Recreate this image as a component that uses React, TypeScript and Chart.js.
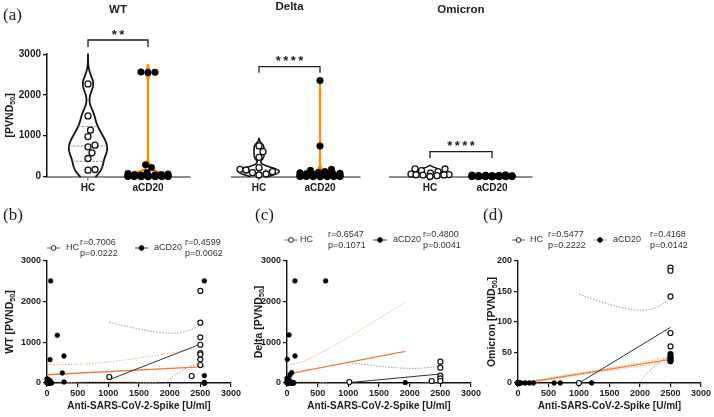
import React, { useEffect, useRef } from "react";
import { Chart, registerables } from "chart.js";

Chart.register(...registerables);

const SANS = "'Liberation Sans', Arial, Helvetica, sans-serif";
const SERIF = "'Liberation Serif', 'Times New Roman', serif";
const INK = "#1d1d1d";
const ORANGE_VIOLIN = "#ff8a00";
const ORANGE_LINE = "#f07a3a";
const ORANGE_CI = "#f3a36a";

// ---------------- data: violin panels (a) ----------------
const GROUPS = ["HC", "aCD20"];
const VIOLIN_Y_TICKS = [0, 1000, 2000, 3000];

const WT_HC = [2271, 1487, 1136, 980, 768, 727, 580, 441, 172, 155];
const WT_ACD20 = [2565, 2555, 2548, 290, 220, 95, 75, 60, 50, 45, 40, 35, 30, 25, 22, 20, 18, 15, 12, 10, 10, 8, 5, 5, 3, 2, 0, 0, 0, 0, 0, 0, 0, 0];
const DELTA_HC = [749, 610, 471, 217, 176, 160, 119, 94, 61, 37];
const DELTA_ACD20 = [2355, 749, 176, 150, 120, 100, 90, 80, 70, 60, 50, 45, 40, 35, 30, 25, 20, 18, 15, 12, 10, 8, 5, 5, 3, 2, 0, 0, 0, 0, 0, 0, 0, 0];
const OMICRON_HC = [189, 184, 142, 120, 82, 60, 47, 43, 39, 36, 20, 0];
const OMICRON_ACD20 = [40, 35, 30, 28, 25, 22, 20, 18, 15, 12, 10, 10, 8, 8, 5, 5, 5, 3, 3, 2, 2, 1, 1, 0, 0, 0, 0, 0, 0, 0, 0, 0, 0, 0];

const SIG_WT = "**";
const SIG_DELTA = "****";
const SIG_OMICRON = "****";

// ---------------- data: correlation panels (b)-(d) ----------------
const SPIKE_TICK_STEP = 500;

const WT_SPIKE_HC = [1016, 2359, 2500, 2500, 2500, 2500, 2500, 2500, 2500, 2500];
const WT_PVND_HC = [148, 172, 2263, 1484, 1123, 940, 738, 705, 582, 443];
const WT_SPIKE_ACD20 = [60, 168, 49, 277, 250, 277, 2565, 2565, 2565, 2565, 2565, 2565, 2565, 0, 0, 0, 5, 8, 10, 12, 15, 18, 20, 22, 25, 28, 30, 35, 40, 45, 50, 55, 65, 75];
const WT_PVND_ACD20 = [2509, 1173, 574, 664, 246, 25, 2509, 180, 8, 0, 0, 0, 0, 0, 30, 100, 10, 60, 0, 20, 90, 0, 40, 5, 15, 0, 70, 10, 0, 25, 0, 50, 5, 0];

const DELTA_SPIKE_HC = [1016, 2359, 2500, 2500, 2500, 2500, 2500];
const DELTA_PVND_HC = [25, 49, 525, 377, 180, 115, 49];
const DELTA_SPIKE_ACD20 = [130, 630, 33, 130, 5, 76, 49, 1929, 0, 0, 0, 3, 5, 8, 10, 12, 15, 18, 20, 22, 25, 28, 30, 35, 40, 45, 50, 60, 70, 80, 90, 100, 105, 110];
const DELTA_PVND_ACD20 = [2509, 2509, 1181, 664, 582, 254, 197, 8, 0, 20, 115, 60, 0, 30, 10, 80, 0, 45, 5, 0, 20, 100, 0, 10, 60, 0, 25, 0, 15, 0, 5, 0, 10, 0];

const OMICRON_SPIKE_HC = [1000, 2500, 2500, 2500, 2500, 2500, 2500, 2500, 2500, 2500];
const OMICRON_PVND_HC = [0, 189, 184, 142, 82, 60, 47, 43, 39, 36];
const OMICRON_SPIKE_ACD20 = [0, 0, 0, 0, 0, 0, 0, 0, 0, 0, 0, 0, 5, 5, 10, 10, 15, 20, 25, 30, 50, 117, 184, 251, 592, 693, 1207, 2500, 2500, 2500, 2500, 2500, 2500, 2500];
const OMICRON_PVND_ACD20 = [0, 0, 0, 0, 0, 0, 0, 0, 0, 0, 0, 0, 0, 0, 0, 0, 0, 0, 0, 0, 0, 0, 0, 0, 0, 0, 0, 48, 45, 42, 40, 38, 36, 35];

const WT_STATS_HC = ["r=0.7006", "p=0.0222"];
const WT_STATS_ACD20 = ["r=0.4599", "p=0.0062"];
const DELTA_STATS_HC = ["r=0.6547", "p=0.1071"];
const DELTA_STATS_ACD20 = ["r=0.4800", "p=0.0041"];
const OMICRON_STATS_HC = ["r=0.5477", "p=0.2222"];
const OMICRON_STATS_ACD20 = ["r=0.4168", "p=0.0142"];

const X_TITLE = "Anti-SARS-CoV-2-Spike [U/ml]";

// Student t 0.975 quantiles by degrees of freedom
const T975 = [0, 12.706, 4.303, 3.182, 2.776, 2.571, 2.447, 2.365, 2.306, 2.262, 2.228, 2.201, 2.179, 2.16, 2.145, 2.131, 2.12, 2.11, 2.101, 2.093, 2.086, 2.08, 2.074, 2.069, 2.064, 2.06, 2.056, 2.052, 2.048, 2.045, 2.042, 2.04, 2.037, 2.035, 2.032];

// ---------------- helpers ----------------
function kde(vals: number[], y: number, bw: number) {
  let s = 0;
  for (const v of vals) {
    const z = (y - v) / bw;
    s += Math.exp(-0.5 * z * z);
  }
  return s;
}

function quantile(sorted: number[], p: number) {
  const n = sorted.length;
  const h = (n + 1) * p - 1;
  if (h <= 0) return sorted[0];
  if (h >= n - 1) return sorted[n - 1];
  const lo = Math.floor(h);
  return sorted[lo] + (h - lo) * (sorted[lo + 1] - sorted[lo]);
}

// beeswarm layout: offsets (in x units) so that markers do not overlap
function swarm(values: number[], pyPerUnit: number, pxPerUnit: number, diam: number, maxPx: number) {
  const idx = values.map((_, i) => i).sort((a, b) => values[a] - values[b]);
  const placed: { x: number; y: number }[] = [];
  const off = new Array(values.length).fill(0);
  const steps = Math.ceil(maxPx / 0.5) * 2;
  for (const i of idx) {
    const py = values[i] * pyPerUnit;
    let best = 0;
    let bestPen = Infinity;
    for (let k = 0; k <= steps; k++) {
      const c = Math.ceil(k / 2) * 0.5 * (k % 2 === 1 ? 1 : -1);
      if (Math.abs(c) > maxPx) continue;
      let pen = 0;
      for (const p of placed) {
        const d = Math.hypot(p.x - c, p.y - py);
        if (d < diam) pen += diam - d;
      }
      if (pen < bestPen - 1e-9) {
        bestPen = pen;
        best = c;
        if (pen === 0) break;
      }
    }
    off[i] = best;
    placed.push({ x: best, y: py });
  }
  return off.map((o) => o / pxPerUnit);
}

function fit(xs: number[], ys: number[]) {
  const n = xs.length;
  const mx = xs.reduce((a, b) => a + b, 0) / n;
  const my = ys.reduce((a, b) => a + b, 0) / n;
  let sxx = 0, sxy = 0;
  for (let i = 0; i < n; i++) {
    sxx += (xs[i] - mx) ** 2;
    sxy += (xs[i] - mx) * (ys[i] - my);
  }
  const b = sxy / sxx;
  const a = my - b * mx;
  let sse = 0;
  for (let i = 0; i < n; i++) sse += (ys[i] - a - b * xs[i]) ** 2;
  const s = Math.sqrt(sse / (n - 2));
  const t = T975[Math.min(n - 2, T975.length - 1)];
  const x0 = Math.min(...xs), x1 = Math.max(...xs);
  const line = [{ x: x0, y: a + b * x0 }, { x: x1, y: a + b * x1 }];
  const up: any[] = [], lo: any[] = [];
  for (let i = 0; i <= 60; i++) {
    const x = x0 + ((x1 - x0) * i) / 60;
    const yh = a + b * x;
    const h = t * s * Math.sqrt(1 / n + (x - mx) ** 2 / sxx);
    up.push({ x, y: yh + h });
    lo.push({ x, y: yh - h });
  }
  return { line, up, lo };
}

function drawRich(ctx: any, runs: any[], x: number, y: number, size: number, rotate: boolean) {
  ctx.save();
  ctx.translate(x, y);
  if (rotate) ctx.rotate(-Math.PI / 2);
  const fonts = runs.map((r) => `bold ${r.sub ? size * 0.68 : size}px ${SANS}`);
  let total = 0;
  const widths = runs.map((r, i) => {
    ctx.font = fonts[i];
    const w = ctx.measureText(r.t).width;
    total += w;
    return w;
  });
  let cx = -total / 2;
  ctx.textAlign = "left";
  ctx.textBaseline = "middle";
  ctx.fillStyle = INK;
  runs.forEach((r, i) => {
    ctx.font = fonts[i];
    ctx.fillText(r.t, cx, r.sub ? size * 0.28 : 0);
    cx += widths[i];
  });
  ctx.restore();
}

// ---------------- plugins ----------------
const violinPlugin = {
  id: "violins",
  beforeDatasetsDraw(chart: any, _a: any, opts: any) {
    const { ctx, scales } = chart;
    const xs = scales.x, ys = scales.y;
    for (const v of opts.items || []) {
      const mn = Math.min(...v.values), mx = Math.max(...v.values);
      const lo = Math.max(0, mn - v.ext * v.bw);
      const hi = Math.min(3000, mx + v.ext * v.bw);
      const N = 300;
      const yv: number[] = [], dv: number[] = [];
      let dmax = 0;
      for (let i = 0; i <= N; i++) {
        const yy = lo + ((hi - lo) * i) / N;
        const d = kde(v.values, yy, v.bw);
        yv.push(yy);
        dv.push(d);
        if (d > dmax) dmax = d;
      }
      ctx.save();
      ctx.beginPath();
      for (let i = 0; i <= N; i++) {
        const X = xs.getPixelForValue(v.pos - (v.half * dv[i]) / dmax);
        const Y = ys.getPixelForValue(yv[i]);
        if (i === 0) ctx.moveTo(X, Y);
        else ctx.lineTo(X, Y);
      }
      for (let i = N; i >= 0; i--) {
        ctx.lineTo(xs.getPixelForValue(v.pos + (v.half * dv[i]) / dmax), ys.getPixelForValue(yv[i]));
      }
      ctx.lineJoin = "round";
      ctx.lineCap = "round";
      ctx.strokeStyle = v.stroke;
      ctx.lineWidth = v.width;
      ctx.stroke();
      if (v.quart) {
        const s = [...v.values].sort((a, b) => a - b);
        ctx.setLineDash([2, 2]);
        ctx.strokeStyle = "#7a7a7a";
        ctx.lineWidth = 0.8;
        for (const p of [0.25, 0.5, 0.75]) {
          const q = quantile(s, p);
          const w = (v.half * kde(v.values, q, v.bw)) / dmax;
          const Y = ys.getPixelForValue(q);
          ctx.beginPath();
          ctx.moveTo(xs.getPixelForValue(v.pos - w), Y);
          ctx.lineTo(xs.getPixelForValue(v.pos + w), Y);
          ctx.stroke();
        }
      }
      ctx.restore();
    }
  },
};

const violinDeco = {
  id: "violinDeco",
  afterDraw(chart: any, _a: any, o: any) {
    const { ctx, scales, chartArea: ca } = chart;
    const x = scales.x, y = scales.y;
    ctx.save();
    ctx.fillStyle = INK;
    ctx.font = `bold 11.5px ${SANS}`;
    ctx.textAlign = "center";
    ctx.textBaseline = "middle";
    ctx.fillText(o.title, x.getPixelForValue(1.5), o.titleY);
    const x1 = x.getPixelForValue(1), x2 = x.getPixelForValue(2);
    const yb = y.getPixelForValue(o.sigAt), yd = y.getPixelForValue(o.sigDrop);
    ctx.strokeStyle = INK;
    ctx.lineWidth = 1.3;
    ctx.beginPath();
    ctx.moveTo(x1, yd);
    ctx.lineTo(x1, yb);
    ctx.lineTo(x2, yb);
    ctx.lineTo(x2, yd);
    ctx.stroke();
    ctx.font = `bold 13px ${SANS}`;
    ctx.textBaseline = "alphabetic";
    const n = o.sig.length;
    const mid = (x1 + x2) / 2;
    for (let i = 0; i < n; i++) ctx.fillText(o.sig[i], mid + (i - (n - 1) / 2) * 7.5, yb - 1.5);
    if (o.yTitle) drawRich(ctx, o.yTitle, ca.left + o.yTitleDx, (ca.top + ca.bottom) / 2, 10.5, true);
    ctx.restore();
  },
};

const scatterDeco = {
  id: "scatterDeco",
  afterDraw(chart: any, _a: any, o: any) {
    const { ctx, chartArea: ca } = chart;
    ctx.save();
    drawRich(ctx, o.yTitle, ca.left + o.yTitleDx, (ca.top + ca.bottom) / 2, 10.5, true);
    ctx.font = `bold 10px ${SANS}`;
    ctx.fillStyle = INK;
    ctx.textAlign = "center";
    ctx.textBaseline = "middle";
    ctx.fillText(o.xTitle, (ca.left + ca.right) / 2, o.xTitleY);
    for (const it of o.legend) {
      const mx = ca.left + it.dx, my = o.legendY;
      ctx.strokeStyle = it.lineColor;
      ctx.lineWidth = 1;
      ctx.beginPath();
      ctx.moveTo(mx - 6.5, my);
      ctx.lineTo(mx + 6.5, my);
      ctx.stroke();
      ctx.beginPath();
      ctx.arc(mx, my, 2.4, 0, Math.PI * 2);
      ctx.fillStyle = it.filled ? "#000" : "#fff";
      ctx.fill();
      ctx.strokeStyle = "#222";
      ctx.stroke();
      ctx.fillStyle = "#333";
      ctx.font = `9px ${SANS}`;
      ctx.textAlign = "left";
      ctx.textBaseline = "middle";
      ctx.fillText(it.label, ca.left + it.labelDx, my);
      ctx.fillText(it.stats[0], ca.left + it.statDx, my - 5.5);
      ctx.fillText(it.stats[1], ca.left + it.statDx, my + 5.5);
    }
    ctx.restore();
  },
};

// ---------------- chart configs ----------------
const TOP_AREA_TOP = 54.2;
const TOP_AREA_BOTTOM = 176.5;
const TOP_CANVAS_H = 196;
const PY_PER_UNIT = (TOP_AREA_BOTTOM - TOP_AREA_TOP) / 3000;

function violinConfig(o: any) {
  const ppu = o.acdPx - o.hcPx;
  const xMin = 1 - (o.hcPx - o.areaLeft) / ppu;
  const xMax = 2 + (o.areaRight - o.acdPx) / ppu;
  const offH = swarm(o.hc, PY_PER_UNIT, ppu, 6.8, 19);
  const offA = swarm(o.acd, PY_PER_UNIT, ppu, 6.6, 20);
  const yW = o.showY ? 47 : 0;
  return {
    type: "scatter",
    data: {
      datasets: [
        {
          data: o.acd.map((v: number, i: number) => ({ x: 2 + offA[i], y: v })),
          pointRadius: 3.3,
          pointBackgroundColor: "#000",
          pointBorderColor: "#000",
          pointBorderWidth: 0.5,
          clip: false,
        },
        {
          data: o.hc.map((v: number, i: number) => ({ x: 1 + offH[i], y: v })),
          pointRadius: 3.0,
          pointBackgroundColor: "#fff",
          pointBorderColor: "#111",
          pointBorderWidth: 1.3,
          clip: false,
        },
      ],
    },
    options: {
      responsive: false,
      animation: false,
      events: [],
      layout: { padding: { top: TOP_AREA_TOP, bottom: 0, left: o.areaLeft - o.canvasLeft - yW, right: o.canvasLeft + o.canvasW - o.areaRight } },
      scales: {
        x: {
          type: "linear",
          min: xMin,
          max: xMax,
          afterBuildTicks: (s: any) => {
            s.ticks = [{ value: 1 }, { value: 2 }];
          },
          afterFit: (s: any) => {
            s.height = TOP_CANVAS_H - TOP_AREA_BOTTOM;
          },
          ticks: {
            callback: (v: any) => GROUPS[Math.round(v) - 1] || "",
            font: { weight: "bold", size: 10, family: SANS },
            color: INK,
            padding: 2,
            maxRotation: 0,
            autoSkip: false,
          },
          grid: { drawOnChartArea: false, drawTicks: true, tickLength: 4, color: "#8c8c8c", lineWidth: 1.5 },
          border: { color: "#8c8c8c", width: 2 },
        },
        y: {
          display: o.showY,
          min: 0,
          max: 3000,
          afterBuildTicks: (s: any) => {
            s.ticks = VIOLIN_Y_TICKS.map((v) => ({ value: v }));
          },
          afterFit: (s: any) => {
            s.width = yW;
          },
          ticks: { callback: (v: any) => String(v), font: { weight: "bold", size: 10, family: SANS }, color: INK, padding: 2 },
          grid: { drawOnChartArea: false, drawTicks: true, tickLength: 4, color: "#111", lineWidth: 1.3 },
          border: { color: "#111", width: 1.5 },
        },
      },
      plugins: {
        legend: { display: false },
        tooltip: { enabled: false },
        violins: { items: o.violins },
        violinDeco: {
          title: o.title,
          titleY: o.titleY,
          sig: o.sig,
          sigAt: o.sigAt,
          sigDrop: o.sigDrop,
          yTitle: o.yTitle,
          yTitleDx: -37,
        },
      },
    },
    plugins: [violinPlugin, violinDeco],
  };
}

function scatterConfig(o: any) {
  const fh = fit(o.hcX, o.hcY);
  const fa = fit(o.aX, o.aY);
  const lineDs = (data: any, color: string, width: number, dash: number[]) => ({
    data,
    showLine: true,
    pointRadius: 0,
    borderColor: color,
    borderWidth: width,
    borderDash: dash,
    fill: false,
  });
  return {
    type: "scatter",
    data: {
      datasets: [
        {
          data: o.aX.map((x: number, i: number) => ({ x, y: o.aY[i] })),
          pointRadius: 2.4,
          pointBackgroundColor: "#000",
          pointBorderColor: "#000",
          pointBorderWidth: 0.5,
          clip: false,
        },
        {
          data: o.hcX.map((x: number, i: number) => ({ x, y: o.hcY[i] })),
          pointRadius: 2.5,
          pointBackgroundColor: "#fff",
          pointBorderColor: "#111",
          pointBorderWidth: 1.2,
          clip: false,
        },
        lineDs(fh.line, "#333", 1, []),
        lineDs(fa.line, ORANGE_LINE, 1.3, []),
        lineDs(fh.up, "#8a8a8a", 0.9, [1.5, 1.5]),
        lineDs(fh.lo, "#8a8a8a", 0.9, [1.5, 1.5]),
        lineDs(fa.up, ORANGE_CI, 0.9, [1.5, 1.5]),
        lineDs(fa.lo, ORANGE_CI, 0.9, [1.5, 1.5]),
      ],
    },
    options: {
      responsive: false,
      animation: false,
      events: [],
      layout: { padding: { top: o.areaTop - o.canvasTop, bottom: 0, left: 0, right: o.canvasLeft + o.canvasW - o.areaRight } },
      scales: {
        x: {
          type: "linear",
          min: 0,
          max: 3000,
          afterFit: (s: any) => {
            s.height = o.canvasTop + o.canvasH - o.areaBottom;
          },
          ticks: { stepSize: SPIKE_TICK_STEP, callback: (v: any) => String(v), font: { weight: "bold", size: 9, family: SANS }, color: INK, padding: 1, maxRotation: 0 },
          grid: { drawOnChartArea: false, drawTicks: true, tickLength: 4, color: "#111", lineWidth: 1.2 },
          border: { color: "#111", width: 1.4 },
        },
        y: {
          min: 0,
          max: o.yMax,
          afterFit: (s: any) => {
            s.width = o.areaLeft - o.canvasLeft;
          },
          ticks: { stepSize: o.yStep, callback: (v: any) => String(v), font: { weight: "bold", size: 9, family: SANS }, color: INK, padding: 2 },
          grid: { drawOnChartArea: false, drawTicks: true, tickLength: 4, color: "#111", lineWidth: 1.2 },
          border: { color: "#111", width: 1.4 },
        },
      },
      plugins: {
        legend: { display: false },
        tooltip: { enabled: false },
        scatterDeco: {
          yTitle: o.yTitle,
          yTitleDx: o.yTitleDx,
          xTitle: X_TITLE,
          xTitleY: 406 - o.canvasTop,
          legendY: o.legendY - o.canvasTop,
          legend: o.legend,
        },
      },
    },
    plugins: [scatterDeco],
  };
}

function ChartBox({ left, top, width, height, make }: any) {
  const ref = useRef<HTMLCanvasElement>(null);
  useEffect(() => {
    const chart = new Chart(ref.current as HTMLCanvasElement, make());
    return () => chart.destroy();
  }, []);
  return (
    <canvas
      ref={ref}
      width={width}
      height={height}
      style={{ position: "absolute", left, top, width, height }}
    />
  );
}

const panelLetter = (text: string, left: number, cy: number) => (
  <div
    style={{
      position: "absolute",
      left,
      top: cy - 10,
      height: 20,
      lineHeight: "20px",
      font: `17px ${SERIF}`,
      color: INK,
    }}
  >
    {text}
  </div>
);

const pvnd = (prefix: string) => [{ t: prefix + "[PVND" }, { t: "50", sub: true }, { t: "]" }];

export default function App() {
  const top = [
    {
      canvasLeft: 0, canvasW: 200, areaLeft: 47, areaRight: 190, hcPx: 88, acdPx: 148, showY: true,
      hc: WT_HC, acd: WT_ACD20, title: "WT", titleY: 10, sig: SIG_WT, sigAt: 3348, sigDrop: 3176,
      yTitle: pvnd(""),
      violins: [
        { pos: 1, values: WT_HC, bw: 200, ext: 3.7, half: 0.32, stroke: "#111", width: 1.8, quart: true },
        { pos: 2, values: WT_ACD20, bw: 80, ext: 2.1, half: 0.3, stroke: ORANGE_VIOLIN, width: 2.3, quart: false },
      ],
    },
    {
      canvasLeft: 215, canvasW: 160, areaLeft: 232, areaRight: 360, hcPx: 259, acdPx: 320, showY: false,
      hc: DELTA_HC, acd: DELTA_ACD20, title: "Delta", titleY: 7, sig: SIG_DELTA, sigAt: 2693, sigDrop: 2546,
      yTitle: null,
      violins: [
        { pos: 1, values: DELTA_HC, bw: 70, ext: 2.7, half: 0.33, stroke: "#111", width: 1.6, quart: true },
        { pos: 2, values: DELTA_ACD20, bw: 40, ext: 1, half: 0.3, stroke: ORANGE_VIOLIN, width: 2.3, quart: false },
      ],
    },
    {
      canvasLeft: 375, canvasW: 170, areaLeft: 390, areaRight: 532, hcPx: 430, acdPx: 492, showY: false,
      hc: OMICRON_HC, acd: OMICRON_ACD20, title: "Omicron", titleY: 10, sig: SIG_OMICRON, sigAt: 608, sigDrop: 446,
      yTitle: null,
      violins: [
        { pos: 1, values: OMICRON_HC, bw: 40, ext: 2, half: 0.33, stroke: "#111", width: 1.4, quart: false },
        { pos: 2, values: OMICRON_ACD20, bw: 20, ext: 2, half: 0.3, stroke: ORANGE_VIOLIN, width: 2, quart: false },
      ],
    },
  ];

  const bottom = [
    {
      canvasLeft: 0, canvasTop: 195, canvasW: 245, canvasH: 222, areaLeft: 47, areaRight: 231, areaTop: 261, areaBottom: 383,
      hcX: WT_SPIKE_HC, hcY: WT_PVND_HC, aX: WT_SPIKE_ACD20, aY: WT_PVND_ACD20, yMax: 3000, yStep: 1000,
      yTitle: pvnd("WT "), yTitleDx: -37, legendY: 248,
      legend: [
        { dx: 6.5, labelDx: 19, statDx: 33, label: "HC", stats: WT_STATS_HC, filled: false, lineColor: "#666" },
        { dx: 94.5, labelDx: 107, statDx: 138, label: "aCD20", stats: WT_STATS_ACD20, filled: true, lineColor: "#333" },
      ],
    },
    {
      canvasLeft: 240, canvasTop: 195, canvasW: 245, canvasH: 222, areaLeft: 287, areaRight: 471, areaTop: 261, areaBottom: 383,
      hcX: DELTA_SPIKE_HC, hcY: DELTA_PVND_HC, aX: DELTA_SPIKE_ACD20, aY: DELTA_PVND_ACD20, yMax: 3000, yStep: 1000,
      yTitle: pvnd("Delta "), yTitleDx: -28, legendY: 240,
      legend: [
        { dx: 4, labelDx: 13, statDx: 41, label: "HC", stats: DELTA_STATS_HC, filled: false, lineColor: "#666" },
        { dx: 93, labelDx: 106, statDx: 136, label: "aCD20", stats: DELTA_STATS_ACD20, filled: true, lineColor: "#333" },
      ],
    },
    {
      canvasLeft: 470, canvasTop: 195, canvasW: 244, canvasH: 222, areaLeft: 518, areaRight: 701, areaTop: 261, areaBottom: 383,
      hcX: OMICRON_SPIKE_HC, hcY: OMICRON_PVND_HC, aX: OMICRON_SPIKE_ACD20, aY: OMICRON_PVND_ACD20, yMax: 200, yStep: 50,
      yTitle: pvnd("Omicron "), yTitleDx: -26, legendY: 240,
      legend: [
        { dx: 0.5, labelDx: 12, statDx: 30, label: "HC", stats: OMICRON_STATS_HC, filled: false, lineColor: "#666" },
        { dx: 82, labelDx: 95, statDx: 132, label: "aCD20", stats: OMICRON_STATS_ACD20, filled: true, lineColor: ORANGE_LINE },
      ],
    },
  ];

  return (
    <div style={{ position: "fixed", left: 0, top: 0, width: 714, height: 417, background: "#fff", overflow: "hidden" }}>
      {top.map((p, i) => (
        <ChartBox key={"t" + i} left={p.canvasLeft} top={0} width={p.canvasW} height={TOP_CANVAS_H} make={() => violinConfig(p)} />
      ))}
      {bottom.map((p, i) => (
        <ChartBox key={"b" + i} left={p.canvasLeft} top={p.canvasTop} width={p.canvasW} height={p.canvasH} make={() => scatterConfig(p)} />
      ))}
      {panelLetter("(a)", 3, 15)}
      {panelLetter("(b)", 3, 215)}
      {panelLetter("(c)", 255, 215)}
      {panelLetter("(d)", 483, 215)}
    </div>
  );
}
